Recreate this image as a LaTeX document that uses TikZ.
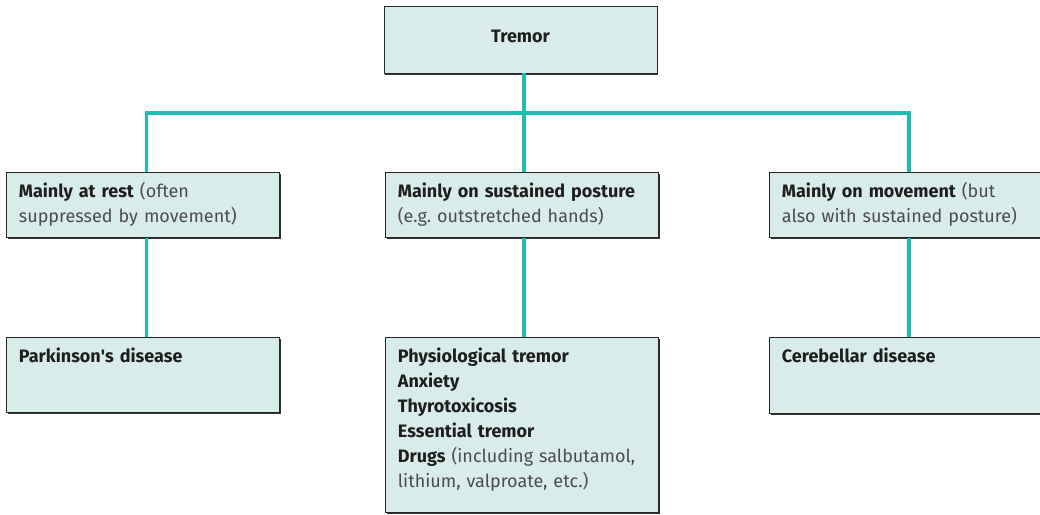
\documentclass[tikz,border=0pt]{standalone}
\usepackage{fontspec}
\setmainfont{Fira Sans}
\usetikzlibrary{positioning,shadows}

\definecolor{boxfill}{RGB}{216,236,234}
\definecolor{linkcol}{RGB}{31,189,176}
\definecolor{inkcol}{RGB}{30,30,30}
\newcommand{\aside}[1]{{\mdseries\color{black!70}#1}}

\tikzset{
  box/.style={draw=black!85, line width=0.8pt, fill=boxfill, text=inkcol,
    drop shadow={shadow xshift=1.2pt, shadow yshift=-1.6pt, opacity=1, fill=black!80},
    font=\fontsize{18}{25}\selectfont\bfseries},
  leafbox/.style={box, anchor=north west, text width=248pt, align=left,
    inner xsep=12.5pt, inner ysep=12pt, text height=13pt},
  link/.style={draw=linkcol, line width=3.6pt}
}

\begin{document}
\begin{tikzpicture}[x=1pt, y=-1pt]
  \useasboundingbox (0,0) rectangle (1040,514);

  % root
  \node[box, minimum width=273pt, minimum height=67pt, text height=13pt, text depth=8pt]
    (tremor) at (520.5,39.5) {Tremor};

  % middle row
  \node[leafbox, text depth=28pt] (rest) at (6,172)
    {Mainly at rest \aside{(often}\\ \aside{suppressed by movement)}};
  \node[leafbox, text depth=28pt] (posture) at (385,172)
    {Mainly on sustained posture\\ \aside{(e.g.\ outstretched hands)}};
  \node[leafbox, text depth=28pt] (movement) at (769,172)
    {Mainly on movement \aside{(but}\\ \aside{also with sustained posture)}};

  % bottom row
  \node[leafbox, text depth=38pt] (parkinson) at (6,337) {Parkinson\textquotesingle s disease};
  \node[leafbox, text depth=138pt] (physio) at (385,337)
    {Physiological tremor\\ Anxiety\\ Thyrotoxicosis\\ Essential tremor\\
     Drugs \aside{(including salbutamol,}\\ \aside{lithium, valproate, etc.)}};
  \node[leafbox, text depth=39pt] (cerebellar) at (769,337) {Cerebellar disease};

  % connectors
  \coordinate (bar) at ([xshift=3.5pt]tremor.south |- 0,113);
  \draw[link] (tremor.south -| bar) -- (bar) -- (posture.north -| bar);
  \draw[link] ([xshift=3.5pt]rest.north) |- (bar) -| ([xshift=3pt]movement.north);
  \draw[link] ([xshift=3.5pt]rest.south) -- ([xshift=3.5pt]parkinson.north);
  \draw[link] (posture.south -| bar) -- (physio.north -| bar);
  \draw[link] ([xshift=3pt]movement.south) -- ([xshift=3pt]cerebellar.north);
\end{tikzpicture}
\end{document}
